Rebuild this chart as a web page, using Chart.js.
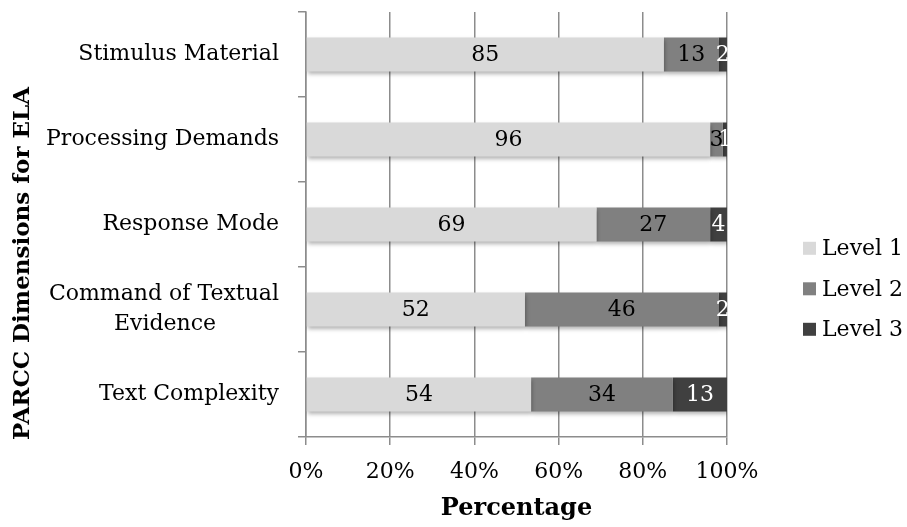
<!DOCTYPE html>
<html>
<head>
<meta charset="utf-8">
<script src="https://cdn.jsdelivr.net/npm/chart.js@4"></script>
<style>
  html, body { margin: 0; padding: 0; background: #fff; }
  #wrap { width: 907px; height: 527px; }
</style>
</head>
<body>
<div id="wrap"><canvas id="chart" width="907" height="527"></canvas></div>
<script>
// categories, top to bottom
const dimensions = [
  'Stimulus Material',
  'Processing Demands',
  'Response Mode',
  ['Command of Textual', 'Evidence'],
  'Text Complexity'
];
const level1 = [85, 96, 69, 52, 54];
const level2 = [13, 3, 27, 46, 34];
const level3 = [2, 1, 4, 2, 13];
const seriesNames = ['Level 1', 'Level 2', 'Level 3'];
const xTicks = [0, 20, 40, 60, 80, 100];
const yTitle = 'PARCC Dimensions for ELA';

const FONT = "'DejaVu Serif', serif";
const SIZE = 22;
const raw = [level1, level2, level3];
const totals = dimensions.map((_, i) => level1[i] + level2[i] + level3[i]);
const colors = ['#d9d9d9', '#808080', '#404040'];
const labelColors = ['#000', '#000', '#fff'];

// centre the second line of a two-line label under the first (Excel style)
const measure = document.createElement('canvas').getContext('2d');
measure.font = SIZE + 'px ' + FONT;
const yLabels = dimensions.map(d => {
  if (!Array.isArray(d)) return d;
  const w0 = measure.measureText(d[0]).width;
  const w1 = measure.measureText(d[1]).width;
  const sp = measure.measureText('\u00A0').width;
  const n = Math.round((w0 - w1) / 2 / sp);
  return [d[0], d[1] + '\u00A0'.repeat(n)];
});

// 100% stacked: share of each row
const datasets = raw.map((vals, k) => ({
  label: seriesNames[k],
  data: vals.map((v, i) => v / totals[i] * 100),
  rawValues: vals,
  backgroundColor: colors[k],
  borderWidth: 0,
  barPercentage: 0.4,
  categoryPercentage: 1
}));

const valueLabels = {
  id: 'valueLabels',
  afterDatasetsDraw(chart) {
    const ctx = chart.ctx;
    ctx.save();
    ctx.font = SIZE + 'px ' + FONT;
    ctx.textAlign = 'center';
    ctx.textBaseline = 'middle';
    chart.data.datasets.forEach((ds, k) => {
      const meta = chart.getDatasetMeta(k);
      meta.data.forEach((bar, i) => {
        const p = bar.getProps(['x', 'y', 'base'], true);
        ctx.fillStyle = labelColors[k];
        ctx.fillText(String(ds.rawValues[i]), (p.x + p.base) / 2, p.y + 1);
      });
    });
    ctx.restore();
  }
};

const barShadow = {
  id: 'barShadow',
  beforeDatasetDraw(chart) {
    const ctx = chart.ctx;
    ctx.save();
    ctx.shadowColor = 'rgba(0,0,0,0.3)';
    ctx.shadowBlur = 4;
    ctx.shadowOffsetX = 1;
    ctx.shadowOffsetY = 2;
  },
  afterDatasetDraw(chart) {
    chart.ctx.restore();
  }
};

// legend and y title drawn by hand: the title is centred on the whole
// picture, not on the plot, and the legend must not squeeze the y axis
const sideDecor = {
  id: 'sideDecor',
  afterDraw(chart) {
    const ctx = chart.ctx;
    const area = chart.chartArea;
    const x = area.right + 76;
    const step = 40.5;
    const midY = chart.height * 0.548;
    ctx.save();
    ctx.font = SIZE + 'px ' + FONT;
    ctx.textBaseline = 'middle';
    ctx.textAlign = 'left';
    chart.data.datasets.forEach((ds, k) => {
      const y = midY + (k - 1) * step;
      ctx.fillStyle = ds.backgroundColor;
      ctx.fillRect(x, y - 6.5, 13, 13);
      ctx.fillStyle = '#000';
      ctx.fillText(ds.label, x + 19, y + 1);
    });

    ctx.translate(23, chart.height / 2);
    ctx.rotate(-Math.PI / 2);
    ctx.textAlign = 'center';
    ctx.font = 'bold 23px ' + FONT;
    ctx.fillText(yTitle, 0, 0);
    ctx.restore();
  }
};

new Chart(document.getElementById('chart'), {
  type: 'bar',
  data: { labels: yLabels, datasets },
  plugins: [barShadow, valueLabels, sideDecor],
  options: {
    indexAxis: 'y',
    responsive: false,
    animation: false,
    layout: { padding: { top: 12, right: 180, left: 2, bottom: 0 } },
    scales: {
      x: {
        stacked: true,
        min: 0,
        max: 100,
        afterBuildTicks(scale) { scale.ticks = xTicks.map(v => ({ value: v })); },
        afterFit(scale) { scale.height = 90; },
        ticks: {
          callback: v => v + '%',
          color: '#000',
          font: { family: FONT, size: SIZE },
          padding: 14,
          maxRotation: 0
        },
        grid: { color: '#8c8c8c', lineWidth: 1.5, tickLength: 8 },
        border: { color: '#8c8c8c', width: 1.5 },
        title: {
          display: true,
          text: 'Percentage',
          color: '#000',
          font: { family: FONT, size: 24, weight: 'bold' },
          padding: { top: 0 }
        }
      },
      y: {
        stacked: true,
        afterFit(scale) {
          scale.width = 304;
          scale.paddingTop = 0;
          scale.paddingBottom = 0;
        },
        ticks: {
          color: '#000',
          font: { family: FONT, size: SIZE, lineHeight: 1.35 },
          padding: 19
        },
        grid: { drawOnChartArea: false, color: '#8c8c8c', lineWidth: 1.5, tickLength: 8 },
        border: { color: '#8c8c8c', width: 1.5 },
        title: { display: false }
      }
    },
    plugins: {
      tooltip: { enabled: false },
      legend: { display: false }
    }
  }
});
</script>
</body>
</html>
